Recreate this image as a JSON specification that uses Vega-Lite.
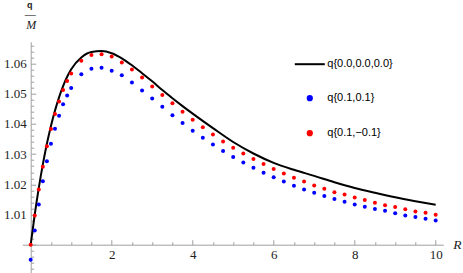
{
  "$schema": "https://vega.github.io/schema/vega-lite/v6.json",
  "width": 421,
  "height": 231,
  "autosize": {"type": "none"},
  "padding": {"left": 22.3, "top": 41.7, "right": 19.7, "bottom": 0},
  "background": "white",
  "config": {
    "view": {"stroke": null},
    "axis": {
      "grid": false,
      "domainColor": "#a0a0a0",
      "tickColor": "#a0a0a0",
      "labelColor": "#222222",
      "labelFont": "Liberation Serif",
      "labelFontSize": 13,
      "titleColor": "#222222"
    }
  },
  "data": {
    "values": [
      {"s": "q{0.0,0.0,0.0}", "R": 0, "v": 1.0},
      {"s": "q{0.0,0.0,0.0}", "R": 0.1, "v": 1.0100},
      {"s": "q{0.0,0.0,0.0}", "R": 0.2, "v": 1.0188},
      {"s": "q{0.0,0.0,0.0}", "R": 0.3, "v": 1.0266},
      {"s": "q{0.0,0.0,0.0}", "R": 0.4, "v": 1.0334},
      {"s": "q{0.0,0.0,0.0}", "R": 0.5, "v": 1.0393},
      {"s": "q{0.0,0.0,0.0}", "R": 0.6, "v": 1.0444},
      {"s": "q{0.0,0.0,0.0}", "R": 0.7, "v": 1.0488},
      {"s": "q{0.0,0.0,0.0}", "R": 0.8, "v": 1.0525},
      {"s": "q{0.0,0.0,0.0}", "R": 0.9, "v": 1.0556},
      {"s": "q{0.0,0.0,0.0}", "R": 1.0, "v": 1.0581},
      {"s": "q{0.0,0.0,0.0}", "R": 1.25, "v": 1.0620},
      {"s": "q{0.0,0.0,0.0}", "R": 1.5, "v": 1.0638},
      {"s": "q{0.0,0.0,0.0}", "R": 1.75, "v": 1.0641},
      {"s": "q{0.0,0.0,0.0}", "R": 2.0, "v": 1.0634},
      {"s": "q{0.0,0.0,0.0}", "R": 2.25, "v": 1.0617},
      {"s": "q{0.0,0.0,0.0}", "R": 2.5, "v": 1.0594},
      {"s": "q{0.0,0.0,0.0}", "R": 2.75, "v": 1.0568},
      {"s": "q{0.0,0.0,0.0}", "R": 3.0, "v": 1.0541},
      {"s": "q{0.0,0.0,0.0}", "R": 3.25, "v": 1.0512},
      {"s": "q{0.0,0.0,0.0}", "R": 3.5, "v": 1.0485},
      {"s": "q{0.0,0.0,0.0}", "R": 3.75, "v": 1.0459},
      {"s": "q{0.0,0.0,0.0}", "R": 4.0, "v": 1.0434},
      {"s": "q{0.0,0.0,0.0}", "R": 4.5, "v": 1.0386},
      {"s": "q{0.0,0.0,0.0}", "R": 5.0, "v": 1.0340},
      {"s": "q{0.0,0.0,0.0}", "R": 5.5, "v": 1.0302},
      {"s": "q{0.0,0.0,0.0}", "R": 6.0, "v": 1.0271},
      {"s": "q{0.0,0.0,0.0}", "R": 6.5, "v": 1.0248},
      {"s": "q{0.0,0.0,0.0}", "R": 7.0, "v": 1.0228},
      {"s": "q{0.0,0.0,0.0}", "R": 7.5, "v": 1.0207},
      {"s": "q{0.0,0.0,0.0}", "R": 8.0, "v": 1.0188},
      {"s": "q{0.0,0.0,0.0}", "R": 8.5, "v": 1.0172},
      {"s": "q{0.0,0.0,0.0}", "R": 9.0, "v": 1.0157},
      {"s": "q{0.0,0.0,0.0}", "R": 9.5, "v": 1.0144},
      {"s": "q{0.0,0.0,0.0}", "R": 10.0, "v": 1.0132},

      {"s": "q{0.1,0.1}", "R": 0, "v": 0.9950},
      {"s": "q{0.1,0.1}", "R": 0.1, "v": 1.0047},
      {"s": "q{0.1,0.1}", "R": 0.2, "v": 1.0133},
      {"s": "q{0.1,0.1}", "R": 0.3, "v": 1.0210},
      {"s": "q{0.1,0.1}", "R": 0.4, "v": 1.0276},
      {"s": "q{0.1,0.1}", "R": 0.5, "v": 1.0334},
      {"s": "q{0.1,0.1}", "R": 0.6, "v": 1.0384},
      {"s": "q{0.1,0.1}", "R": 0.7, "v": 1.0427},
      {"s": "q{0.1,0.1}", "R": 0.8, "v": 1.0465},
      {"s": "q{0.1,0.1}", "R": 0.9, "v": 1.0494},
      {"s": "q{0.1,0.1}", "R": 1.0, "v": 1.0519},
      {"s": "q{0.1,0.1}", "R": 1.25, "v": 1.0564},
      {"s": "q{0.1,0.1}", "R": 1.5, "v": 1.0583},
      {"s": "q{0.1,0.1}", "R": 1.75, "v": 1.0586},
      {"s": "q{0.1,0.1}", "R": 2.0, "v": 1.0576},
      {"s": "q{0.1,0.1}", "R": 2.25, "v": 1.0561},
      {"s": "q{0.1,0.1}", "R": 2.5, "v": 1.0537},
      {"s": "q{0.1,0.1}", "R": 2.75, "v": 1.0511},
      {"s": "q{0.1,0.1}", "R": 3.0, "v": 1.0484},
      {"s": "q{0.1,0.1}", "R": 3.25, "v": 1.0457},
      {"s": "q{0.1,0.1}", "R": 3.5, "v": 1.0429},
      {"s": "q{0.1,0.1}", "R": 3.75, "v": 1.0403},
      {"s": "q{0.1,0.1}", "R": 4.0, "v": 1.0377},
      {"s": "q{0.1,0.1}", "R": 4.25, "v": 1.0354},
      {"s": "q{0.1,0.1}", "R": 4.5, "v": 1.0332},
      {"s": "q{0.1,0.1}", "R": 4.75, "v": 1.0310},
      {"s": "q{0.1,0.1}", "R": 5.0, "v": 1.0290},
      {"s": "q{0.1,0.1}", "R": 5.25, "v": 1.0272},
      {"s": "q{0.1,0.1}", "R": 5.5, "v": 1.0255},
      {"s": "q{0.1,0.1}", "R": 5.75, "v": 1.0238},
      {"s": "q{0.1,0.1}", "R": 6.0, "v": 1.0223},
      {"s": "q{0.1,0.1}", "R": 6.25, "v": 1.0209},
      {"s": "q{0.1,0.1}", "R": 6.5, "v": 1.0195},
      {"s": "q{0.1,0.1}", "R": 6.75, "v": 1.0183},
      {"s": "q{0.1,0.1}", "R": 7.0, "v": 1.0172},
      {"s": "q{0.1,0.1}", "R": 7.25, "v": 1.0161},
      {"s": "q{0.1,0.1}", "R": 7.5, "v": 1.0151},
      {"s": "q{0.1,0.1}", "R": 7.75, "v": 1.0142},
      {"s": "q{0.1,0.1}", "R": 8.0, "v": 1.0133},
      {"s": "q{0.1,0.1}", "R": 8.25, "v": 1.0126},
      {"s": "q{0.1,0.1}", "R": 8.5, "v": 1.0118},
      {"s": "q{0.1,0.1}", "R": 8.75, "v": 1.0112},
      {"s": "q{0.1,0.1}", "R": 9.0, "v": 1.0104},
      {"s": "q{0.1,0.1}", "R": 9.25, "v": 1.0097},
      {"s": "q{0.1,0.1}", "R": 9.5, "v": 1.0092},
      {"s": "q{0.1,0.1}", "R": 9.75, "v": 1.0086},
      {"s": "q{0.1,0.1}", "R": 10.0, "v": 1.0080},

      {"s": "q{0.1,−0.1}", "R": 0, "v": 1.0000},
      {"s": "q{0.1,−0.1}", "R": 0.1, "v": 1.0097},
      {"s": "q{0.1,−0.1}", "R": 0.2, "v": 1.0183},
      {"s": "q{0.1,−0.1}", "R": 0.3, "v": 1.0258},
      {"s": "q{0.1,−0.1}", "R": 0.4, "v": 1.0326},
      {"s": "q{0.1,−0.1}", "R": 0.5, "v": 1.0383},
      {"s": "q{0.1,−0.1}", "R": 0.6, "v": 1.0433},
      {"s": "q{0.1,−0.1}", "R": 0.7, "v": 1.0474},
      {"s": "q{0.1,−0.1}", "R": 0.8, "v": 1.0512},
      {"s": "q{0.1,−0.1}", "R": 0.9, "v": 1.0542},
      {"s": "q{0.1,−0.1}", "R": 1.0, "v": 1.0567},
      {"s": "q{0.1,−0.1}", "R": 1.25, "v": 1.0609},
      {"s": "q{0.1,−0.1}", "R": 1.5, "v": 1.0628},
      {"s": "q{0.1,−0.1}", "R": 1.75, "v": 1.0631},
      {"s": "q{0.1,−0.1}", "R": 2.0, "v": 1.0623},
      {"s": "q{0.1,−0.1}", "R": 2.25, "v": 1.0603},
      {"s": "q{0.1,−0.1}", "R": 2.5, "v": 1.0580},
      {"s": "q{0.1,−0.1}", "R": 2.75, "v": 1.0554},
      {"s": "q{0.1,−0.1}", "R": 3.0, "v": 1.0524},
      {"s": "q{0.1,−0.1}", "R": 3.25, "v": 1.0496},
      {"s": "q{0.1,−0.1}", "R": 3.5, "v": 1.0468},
      {"s": "q{0.1,−0.1}", "R": 3.75, "v": 1.0440},
      {"s": "q{0.1,−0.1}", "R": 4.0, "v": 1.0414},
      {"s": "q{0.1,−0.1}", "R": 4.25, "v": 1.0389},
      {"s": "q{0.1,−0.1}", "R": 4.5, "v": 1.0365},
      {"s": "q{0.1,−0.1}", "R": 4.75, "v": 1.0342},
      {"s": "q{0.1,−0.1}", "R": 5.0, "v": 1.0321},
      {"s": "q{0.1,−0.1}", "R": 5.25, "v": 1.0302},
      {"s": "q{0.1,−0.1}", "R": 5.5, "v": 1.0284},
      {"s": "q{0.1,−0.1}", "R": 5.75, "v": 1.0267},
      {"s": "q{0.1,−0.1}", "R": 6.0, "v": 1.0251},
      {"s": "q{0.1,−0.1}", "R": 6.25, "v": 1.0236},
      {"s": "q{0.1,−0.1}", "R": 6.5, "v": 1.0222},
      {"s": "q{0.1,−0.1}", "R": 6.75, "v": 1.0209},
      {"s": "q{0.1,−0.1}", "R": 7.0, "v": 1.0196},
      {"s": "q{0.1,−0.1}", "R": 7.25, "v": 1.0185},
      {"s": "q{0.1,−0.1}", "R": 7.5, "v": 1.0174},
      {"s": "q{0.1,−0.1}", "R": 7.75, "v": 1.0166},
      {"s": "q{0.1,−0.1}", "R": 8.0, "v": 1.0156},
      {"s": "q{0.1,−0.1}", "R": 8.25, "v": 1.0148},
      {"s": "q{0.1,−0.1}", "R": 8.5, "v": 1.0139},
      {"s": "q{0.1,−0.1}", "R": 8.75, "v": 1.0131},
      {"s": "q{0.1,−0.1}", "R": 9.0, "v": 1.0125},
      {"s": "q{0.1,−0.1}", "R": 9.25, "v": 1.0117},
      {"s": "q{0.1,−0.1}", "R": 9.5, "v": 1.0110},
      {"s": "q{0.1,−0.1}", "R": 9.75, "v": 1.0106},
      {"s": "q{0.1,−0.1}", "R": 10.0, "v": 1.0099}
    ]
  },
  "resolve": {"axis": {"x": "independent", "y": "independent"}},
  "layer": [
    {
      "transform": [{"filter": "datum.s === 'q{0.0,0.0,0.0}'"}],
      "mark": {"type": "line", "interpolate": "monotone", "strokeWidth": 2},
      "encoding": {
        "x": {
          "field": "R", "type": "quantitative",
          "scale": {"domain": [-0.207, 10.188], "nice": false, "zero": false},
          "axis": {
            "orient": "bottom", "offset": -28, "values": [2, 4, 6, 8, 10],
            "ticks": false, "labelPadding": 4, "labelFlush": false,
            "title": "R", "titleFont": "Liberation Serif", "titleFontStyle": "italic",
            "titleFontWeight": "normal", "titleFontSize": 13.5,
            "titleX": 434.7, "titleY": 3.5, "titleAlign": "center",
            "titleBaseline": "alphabetic", "titleAngle": 0
          }
        },
        "y": {
          "field": "v", "type": "quantitative",
          "scale": {"domain": [0.99073, 1.06722], "nice": false, "zero": false},
          "axis": {
            "orient": "left", "offset": -8.4,
            "values": [1.01, 1.02, 1.03, 1.04, 1.05, 1.06],
            "format": ".2f", "ticks": false, "labelPadding": 4.5, "labelFlush": false,
            "title": "q", "titleFont": "Liberation Sans", "titleFontSize": 9,
            "titleFontWeight": "bold", "titleX": -1.5, "titleY": -34.5,
            "titleAlign": "center", "titleBaseline": "alphabetic", "titleAngle": 0
          }
        },
        "color": {
          "field": "s", "type": "nominal",
          "scale": {
            "domain": ["q{0.0,0.0,0.0}", "q{0.1,0.1}", "q{0.1,−0.1}"],
            "range": ["#000000", "#0000ff", "#ff0000"]
          },
          "legend": {
            "orient": "none", "legendX": 282, "legendY": 17, "title": null,
            "padding": 0, "labelFont": "Liberation Sans", "labelFontSize": 11,
            "labelColor": "#000000", "rowPadding": 22, "labelOffset": 12,
            "symbolSize": 625, "symbolStrokeWidth": 2,
            "encode": {
              "symbols": {
                "update": {
                  "shape": {"signal": "datum.value === 'q{0.0,0.0,0.0}' ? 'stroke' : 'circle'"},
                  "size": {"signal": "datum.value === 'q{0.0,0.0,0.0}' ? 900 : 18"},
                  "fill": {"signal": "datum.value === 'q{0.0,0.0,0.0}' ? 'transparent' : scale('color', datum.value)"},
                  "stroke": {"signal": "datum.value === 'q{0.0,0.0,0.0}' ? '#000000' : 'transparent'"},
                  "strokeWidth": {"value": 2},
                  "opacity": {"value": 1}
                }
              }
            }
          }
        }
      }
    },
    {
      "transform": [{"filter": "datum.s === 'q{0.1,0.1}'"}],
      "mark": {"type": "circle", "size": 16, "opacity": 1, "color": "#0000ff"},
      "encoding": {
        "x": {
          "field": "R", "type": "quantitative",
          "scale": {"domain": [-0.207, 10.188], "nice": false, "zero": false},
          "axis": {
            "orient": "bottom", "offset": -28, "values": [2, 4, 6, 8, 10],
            "ticks": true, "tickSize": -5, "labels": false, "domain": false, "title": null
          }
        },
        "y": {
          "field": "v", "type": "quantitative",
          "scale": {"domain": [0.99073, 1.06722], "nice": false, "zero": false},
          "axis": {
            "orient": "left", "offset": -8.4,
            "values": [1.0, 1.01, 1.02, 1.03, 1.04, 1.05, 1.06],
            "ticks": true, "tickSize": -5, "labels": false, "domain": false,
            "title": "—", "titleFont": "Liberation Sans", "titleFontSize": 11,
            "titleFontWeight": "normal", "titleColor": "#555555", "titleX": -1, "titleY": -24.2,
            "titleAlign": "center", "titleBaseline": "alphabetic", "titleAngle": 0
          }
        }
      }
    },
    {
      "transform": [{"filter": "datum.s === 'q{0.1,−0.1}'"}],
      "mark": {"type": "circle", "size": 16, "opacity": 1, "color": "#ff0000"},
      "encoding": {
        "x": {
          "field": "R", "type": "quantitative",
          "scale": {"domain": [-0.207, 10.188], "nice": false, "zero": false},
          "axis": {
            "orient": "bottom", "offset": -28,
            "values": [0.5, 1, 1.5, 2.5, 3, 3.5, 4.5, 5, 5.5, 6.5, 7, 7.5, 8.5, 9, 9.5],
            "ticks": true, "tickSize": -3, "labels": false, "domain": false, "title": null
          }
        },
        "y": {
          "field": "v", "type": "quantitative",
          "scale": {"domain": [0.99073, 1.06722], "nice": false, "zero": false},
          "axis": {
            "orient": "left", "offset": -8.4,
            "values": [0.992, 0.994, 0.996, 0.998, 1.002, 1.004, 1.006, 1.008, 1.012, 1.014, 1.016, 1.018, 1.022, 1.024, 1.026, 1.028, 1.032, 1.034, 1.036, 1.038, 1.042, 1.044, 1.046, 1.048, 1.052, 1.054, 1.056, 1.058, 1.062, 1.064, 1.066],
            "ticks": true, "tickSize": -3, "labels": false, "domain": false,
            "title": "M", "titleFont": "Liberation Serif", "titleFontSize": 12,
            "titleFontStyle": "italic", "titleFontWeight": "normal", "titleX": 0, "titleY": -13.4,
            "titleAlign": "center", "titleBaseline": "alphabetic", "titleAngle": 0
          }
        }
      }
    }
  ]
}
